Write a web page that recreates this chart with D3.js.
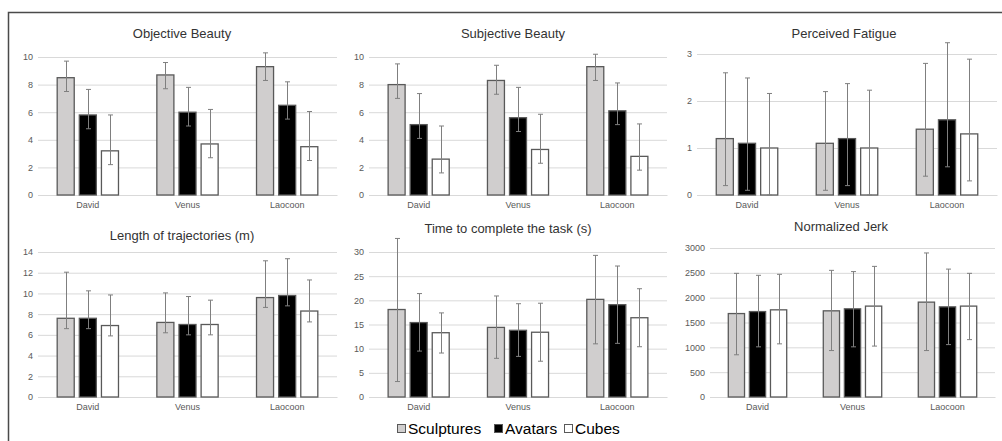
<html>
<head>
    <meta charset="UTF-8">
    <title>Museum VR measures</title>
    <script src="https://d3js.org/d3.v7.min.js"></script>
    <style>
        body { margin: 0; background: #fff; }
        text { font-family: "Liberation Sans", Arial, sans-serif; }
    </style>
</head>
<body>
    <svg width="1002" height="441"></svg>
    <script>
        // categories and series
        var categories = ['David', 'Venus', 'Laocoon'];
        var series = ['Sculptures', 'Avatars', 'Cubes'];
        var seriesFill = ['#d0cece', '#000000', '#ffffff'];

        // values read per category (rows) and series (columns)
        var objectiveMean = [[8.5, 5.8, 3.2], [8.7, 6.0, 3.7], [9.3, 6.5, 3.5]];
        var objectiveHi   = [[9.7, 7.65, 5.8], [9.6, 7.8, 6.2], [10.3, 8.2, 6.05]];
        var objectiveLo   = [[7.5, 4.8, 2.2], [7.7, 5.0, 2.7], [8.3, 5.5, 2.5]];

        var subjectiveMean = [[8.0, 5.1, 2.6], [8.3, 5.6, 3.3], [9.3, 6.1, 2.8]];
        var subjectiveHi   = [[9.5, 7.35, 5.0], [9.4, 7.8, 5.85], [10.2, 8.12, 5.15]];
        var subjectiveLo   = [[7.0, 4.1, 1.6], [7.3, 4.6, 2.3], [8.3, 5.1, 1.8]];

        var fatigueMean = [[1.2, 1.1, 1.0], [1.1, 1.2, 1.0], [1.4, 1.6, 1.3]];
        var fatigueHi   = [[2.6, 2.49, 2.16], [2.2, 2.37, 2.23], [2.8, 3.24, 2.89]];
        var fatigueLo   = [[0.2, 0.1, 0.0], [0.1, 0.2, 0.0], [0.4, 0.6, 0.3]];

        var lengthMean = [[7.6, 7.6, 6.9], [7.2, 7.0, 7.0], [9.6, 9.8, 8.3]];
        var lengthHi   = [[12.05, 10.25, 9.85], [10.05, 9.7, 9.35], [13.15, 13.35, 11.3]];
        var lengthLo   = [[6.6, 6.6, 5.9], [6.2, 6.0, 6.0], [8.65, 8.8, 7.25]];

        var timeMean = [[18.1, 15.4, 13.3], [14.4, 13.8, 13.4], [20.2, 19.1, 16.4]];
        var timeHi   = [[32.8, 21.4, 17.4], [20.9, 19.3, 19.4], [29.3, 27.1, 22.4]];
        var timeLo   = [[3.2, 9.5, 9.1], [8.0, 8.4, 7.4], [11.0, 11.1, 10.4]];

        var jerkMean = [[1680, 1720, 1755], [1735, 1775, 1830], [1910, 1815, 1830]];
        var jerkHi   = [[2490, 2450, 2470], [2550, 2525, 2630], [2900, 2575, 2490]];
        var jerkLo   = [[850, 1010, 1070], [935, 1010, 1025], [935, 1055, 1155]];

        // tick labels for each panel
        var objectiveTicks = [0, 2, 4, 6, 8, 10];
        var subjectiveTicks = [0, 2, 4, 6, 8, 10];
        var fatigueTicks = [0, 1, 2, 3];
        var lengthTicks = [0, 2, 4, 6, 8, 10, 12, 14];
        var timeTicks = [0, 5, 10, 15, 20, 25, 30];
        var jerkTicks = [0, 500, 1000, 1500, 2000, 2500, 3000];

        var panels = [
            { title: 'Objective Beauty', mean: objectiveMean, hi: objectiveHi, lo: objectiveLo, ticks: objectiveTicks,
              x0: 38, x1: 337, yTop: 57, yBot: 195, titleX: 182, titleY: 38 },
            { title: 'Subjective Beauty', mean: subjectiveMean, hi: subjectiveHi, lo: subjectiveLo, ticks: subjectiveTicks,
              x0: 369, x1: 667, yTop: 57, yBot: 195, titleX: 513, titleY: 38 },
            { title: 'Perceived Fatigue', mean: fatigueMean, hi: fatigueHi, lo: fatigueLo, ticks: fatigueTicks,
              x0: 697, x1: 997, yTop: 54, yBot: 195, titleX: 844, titleY: 38 },
            { title: 'Length of trajectories (m)', mean: lengthMean, hi: lengthHi, lo: lengthLo, ticks: lengthTicks,
              x0: 38, x1: 337, yTop: 252, yBot: 397, titleX: 182, titleY: 240 },
            { title: 'Time to complete the task (s)', mean: timeMean, hi: timeHi, lo: timeLo, ticks: timeTicks,
              x0: 369, x1: 667, yTop: 252, yBot: 397, titleX: 508, titleY: 233 },
            { title: 'Normalized Jerk', mean: jerkMean, hi: jerkHi, lo: jerkLo, ticks: jerkTicks,
              x0: 710, x1: 995, yTop: 248, yBot: 397, titleX: 841, titleY: 231 }
        ];

        var svg = d3.select('svg');

        // outer frame (runs off the right and bottom edges)
        svg.append('rect')
            .attr('x', 8.5).attr('y', 12.5)
            .attr('width', 1010).attr('height', 440)
            .attr('fill', 'none')
            .attr('stroke', '#4a4a4a')
            .attr('stroke-width', 1.5);

        panels.forEach(function (p) {
            var g = svg.append('g');

            var x = d3.scaleBand().domain(categories).range([p.x0, p.x1]).paddingInner(0).paddingOuter(0);
            var groupW = x.step() * 0.615;
            var xs = d3.scaleBand().domain(series).range([0, groupW]).paddingInner(0.23);
            var y = d3.scaleLinear().domain([0, d3.max(p.ticks)]).range([p.yBot, p.yTop]);

            // gridlines + y labels
            var yAxis = d3.axisLeft(y).tickValues(p.ticks).tickFormat(d3.format('d'))
                .tickSize(-(p.x1 - p.x0)).tickPadding(5);
            var ya = g.append('g').attr('transform', 'translate(' + p.x0 + ',0)').call(yAxis);
            ya.select('.domain').remove();
            ya.selectAll('.tick line').attr('stroke', '#d9d9d9');
            ya.selectAll('.tick text')
                .attr('fill', '#595959')
                .style('font-size', '9px')
                .style('font-family', '"Liberation Sans", Arial, sans-serif');

            // category axis
            var xAxis = d3.axisBottom(x).tickSize(0).tickPadding(7);
            var xa = g.append('g').attr('transform', 'translate(0,' + p.yBot + ')').call(xAxis);
            xa.select('.domain').attr('stroke', '#d9d9d9');
            xa.selectAll('.tick text')
                .attr('fill', '#595959')
                .style('font-size', '9px')
                .style('font-family', '"Liberation Sans", Arial, sans-serif');

            // title
            g.append('text')
                .attr('x', p.titleX).attr('y', p.titleY)
                .attr('text-anchor', 'middle')
                .attr('fill', '#333')
                .style('font-size', '13px')
                .text(p.title);

            var rows = [];
            categories.forEach(function (c, ci) {
                series.forEach(function (s, si) {
                    rows.push({ cat: c, ser: s, si: si, v: p.mean[ci][si], hi: p.hi[ci][si], lo: p.lo[ci][si] });
                });
            });

            var bx = function (d) { return x(d.cat) + (x.step() - groupW) / 2 + xs(d.ser); };

            g.selectAll('rect.bar').data(rows).enter().append('rect')
                .attr('class', 'bar')
                .attr('x', bx)
                .attr('y', function (d) { return y(d.v); })
                .attr('width', xs.bandwidth())
                .attr('height', function (d) { return y(0) - y(d.v); })
                .attr('fill', function (d) { return seriesFill[d.si]; })
                .attr('stroke', '#595959')
                .attr('stroke-width', 1.3);

            // error bars
            var eb = g.selectAll('g.err').data(rows).enter().append('g')
                .attr('class', 'err')
                .attr('stroke', '#7f7f7f')
                .attr('stroke-width', 1);
            var cx = function (d) { return Math.round(bx(d) + xs.bandwidth() / 2) + 0.5; };
            eb.append('line')
                .attr('x1', cx).attr('x2', cx)
                .attr('y1', function (d) { return y(d.lo); })
                .attr('y2', function (d) { return y(d.hi); });
            eb.append('line')
                .attr('x1', function (d) { return cx(d) - 2.5; }).attr('x2', function (d) { return cx(d) + 2.5; })
                .attr('y1', function (d) { return y(d.hi); }).attr('y2', function (d) { return y(d.hi); });
            eb.append('line')
                .attr('x1', function (d) { return cx(d) - 2.5; }).attr('x2', function (d) { return cx(d) + 2.5; })
                .attr('y1', function (d) { return y(d.lo); }).attr('y2', function (d) { return y(d.lo); });
        });

        // legend
        var legendX = [397, 494, 564];
        var legend = svg.append('g');
        series.forEach(function (s, i) {
            legend.append('rect')
                .attr('x', legendX[i] + 0.5).attr('y', 424.5)
                .attr('width', 8).attr('height', 8)
                .attr('fill', seriesFill[i])
                .attr('stroke', '#595959');
            legend.append('text')
                .attr('x', legendX[i] + 11).attr('y', 434)
                .attr('fill', '#000')
                .style('font-size', '15.5px')
                .text(s);
        });
    </script>
</body>
</html>
